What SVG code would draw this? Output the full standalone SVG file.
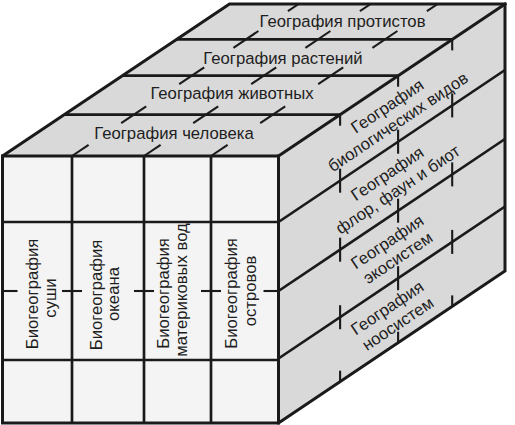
<svg xmlns="http://www.w3.org/2000/svg" width="515" height="425" viewBox="0 0 515 425">
<style>
.face-top{fill:#d9d9d9}
.face-right{fill:#d9d9d9}
.face-front{fill:#f4f4f4}
.edge{stroke:#1a1a1a;stroke-width:3;fill:none;stroke-linejoin:miter;stroke-linecap:square}
.grid{stroke:#1a1a1a;stroke-width:2.7;fill:none}
.tick{stroke:#1a1a1a;stroke-width:2.1;fill:none}
text{font-family:"Liberation Sans",Arial,sans-serif;font-size:16.7px;fill:#1e1e1e;text-anchor:middle}
</style>
<rect width="515" height="425" fill="#ffffff"/>
<g id="faces">
<polygon class="face-top" points="2.5,156 229.5,4 505,4 278.5,156"/>
<polygon class="face-right" points="278.5,156 505,4 505,271 278.5,423"/>
<rect class="face-front" x="2.5" y="156" width="276" height="267"/>
</g>
<g id="connectors">
<line class="grid" x1="64.2" y1="114.7" x2="340.1" y2="114.7"/>
<line class="grid" x1="122.2" y1="75.7" x2="398.1" y2="75.7"/>
<line class="grid" x1="176.4" y1="39.4" x2="452.2" y2="39.4"/>
<line class="grid" x1="278.5" y1="222" x2="505" y2="70"/>
<line class="grid" x1="278.5" y1="291" x2="505" y2="139"/>
<line class="grid" x1="278.5" y1="358.5" x2="505" y2="206.5"/>
<line class="grid" x1="72" y1="156" x2="72" y2="423"/>
<line class="grid" x1="144" y1="156" x2="144" y2="423"/>
<line class="grid" x1="211" y1="156" x2="211" y2="423"/>
<line class="grid" x1="2.5" y1="222" x2="278.5" y2="222"/>
<line class="grid" x1="2.5" y1="360" x2="278.5" y2="360"/>
<g class="tick">
<line x1="2.5" y1="291" x2="17.5" y2="291"/>
<line x1="62" y1="291" x2="82" y2="291"/>
<line x1="134" y1="291" x2="154" y2="291"/>
<line x1="201" y1="291" x2="221" y2="291"/>
<line x1="263.5" y1="291" x2="278.5" y2="291"/>
</g>
<g class="tick">
<line x1="72" y1="156" x2="88.6" y2="144.9"/>
<line x1="144" y1="156" x2="160.6" y2="144.9"/>
<line x1="211" y1="156" x2="227.6" y2="144.9"/>
<line x1="121.2" y1="123.1" x2="146.2" y2="106.3"/>
<line x1="193.2" y1="123.1" x2="218.2" y2="106.3"/>
<line x1="260.2" y1="123.1" x2="285.2" y2="106.3"/>
<line x1="179.2" y1="84.1" x2="204.2" y2="67.3"/>
<line x1="251.2" y1="84.1" x2="276.2" y2="67.3"/>
<line x1="318.2" y1="84.1" x2="343.2" y2="67.3"/>
<line x1="233.4" y1="47.8" x2="258.4" y2="31"/>
<line x1="305.4" y1="47.8" x2="330.4" y2="31"/>
<line x1="372.4" y1="47.8" x2="397.4" y2="31"/>
<line x1="298.7" y1="4" x2="287.9" y2="11.2"/>
<line x1="370.7" y1="4" x2="359.9" y2="11.2"/>
<line x1="437.7" y1="4" x2="426.9" y2="11.2"/>
</g>
<g class="tick">
<line x1="340.1" y1="114.7" x2="340.1" y2="125.7"/>
<line x1="398.1" y1="75.7" x2="398.1" y2="86.7"/>
<line x1="452.2" y1="39.4" x2="452.2" y2="50.4"/>
<line x1="340.1" y1="168.7" x2="340.1" y2="192.7"/>
<line x1="398.1" y1="129.7" x2="398.1" y2="153.7"/>
<line x1="452.2" y1="93.4" x2="452.2" y2="117.4"/>
<line x1="340.1" y1="237.7" x2="340.1" y2="261.7"/>
<line x1="398.1" y1="198.7" x2="398.1" y2="222.7"/>
<line x1="452.2" y1="162.4" x2="452.2" y2="186.4"/>
<line x1="340.1" y1="305.2" x2="340.1" y2="329.2"/>
<line x1="398.1" y1="266.2" x2="398.1" y2="290.2"/>
<line x1="452.2" y1="229.9" x2="452.2" y2="253.9"/>
<line x1="340.1" y1="381.7" x2="340.1" y2="370.7"/>
<line x1="398.1" y1="342.7" x2="398.1" y2="331.7"/>
<line x1="452.2" y1="306.4" x2="452.2" y2="295.4"/>
</g>
<polygon class="edge" points="2.5,156 229.5,4 505,4 505,271 278.5,423 2.5,423"/>
<polyline class="edge" points="2.5,156 278.5,156 505,4"/>
<line class="edge" x1="278.5" y1="156" x2="278.5" y2="423"/>
</g>
<g id="node-protists"><text x="342.5" y="26.5">География протистов</text></g>
<g id="node-plants"><text x="283" y="63.5">География растений</text></g>
<g id="node-animals"><text x="232" y="99">География животных</text></g>
<g id="node-human"><text x="174" y="138.5">География человека</text></g>
<g id="node-land">
<text transform="translate(37.5,294) rotate(-90)">Биогеография</text>
<text transform="translate(56,298) rotate(-90)">суши</text>
</g>
<g id="node-ocean">
<text transform="translate(101.5,295) rotate(-90)">Биогеография</text>
<text transform="translate(119,294) rotate(-90)">океана</text>
</g>
<g id="node-inland-waters">
<text transform="translate(168.5,293.5) rotate(-90)">Биогеография</text>
<text transform="translate(186.5,290) rotate(-90)">материковых вод</text>
</g>
<g id="node-islands">
<text transform="translate(237,293.5) rotate(-90)">Биогеография</text>
<text transform="translate(255.5,291) rotate(-90)">островов</text>
</g>
<g id="node-species" transform="translate(391.8,113) rotate(-33.84)">
<text x="0" y="-2.5">География</text>
<text x="0" y="16.5">биологических видов</text>
</g>
<g id="node-floras" transform="translate(391.8,180.5) rotate(-33.84)">
<text x="0" y="-2.5">География</text>
<text x="0" y="16.5">флор, фаун и биот</text>
</g>
<g id="node-ecosystems" transform="translate(391.8,248.75) rotate(-33.84)">
<text x="0" y="-2.5">География</text>
<text x="0" y="16.5">экосистем</text>
</g>
<g id="node-noosystems" transform="translate(391.8,314.75) rotate(-33.84)">
<text x="0" y="-2.5">География</text>
<text x="0" y="16.5">ноосистем</text>
</g>
</svg>
